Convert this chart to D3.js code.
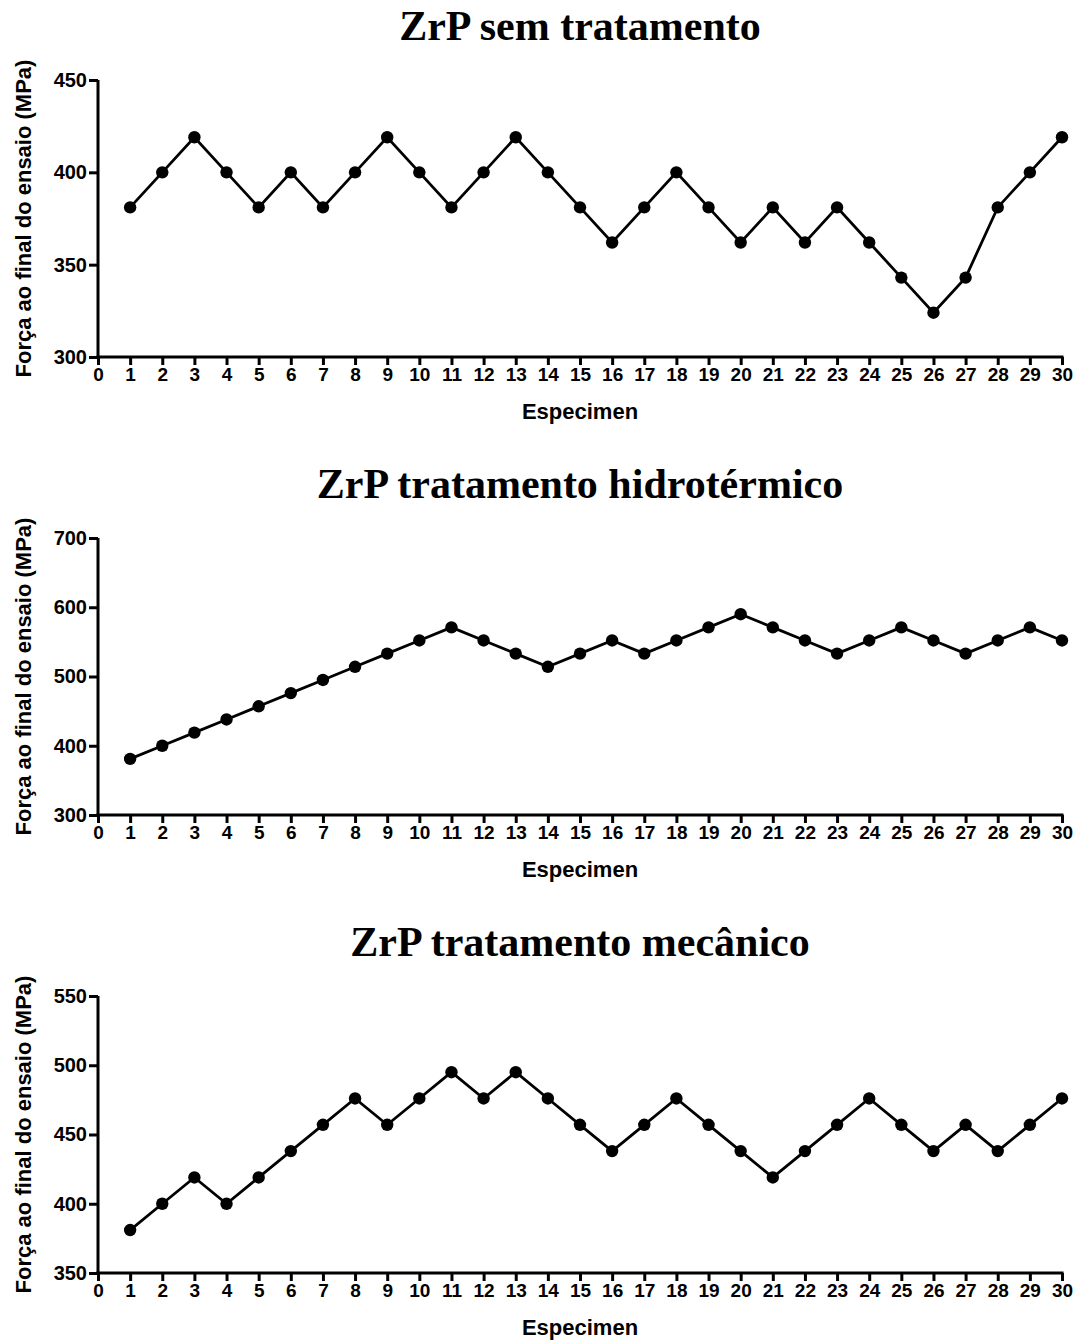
<!DOCTYPE html>
<html>
<head>
<meta charset="utf-8">
<script src="https://cdn.jsdelivr.net/npm/d3@7"></script>
<style>
  body { margin: 0; background: #fff; }
  svg { display: block; }
  .tick text { font-family: "Liberation Sans", Arial, sans-serif; font-weight: bold; fill: #000; }
</style>
</head>
<body>
<svg id="chart" width="1077" height="1341"></svg>
<script>
// specimens 1..30
const specimens = d3.range(1, 31);
const xTicks = d3.range(0, 31);

const titles = ['ZrP sem tratamento', 'ZrP tratamento hidrotérmico', 'ZrP tratamento mecânico'];

const semTratamento = [381, 400, 419, 400, 381, 400, 381, 400, 419, 400,
  381, 400, 419, 400, 381, 362, 381, 400, 381, 362,
  381, 362, 381, 362, 343, 324, 343, 381, 400, 419];

const hidrotermico = [381, 400, 419, 438, 457, 476, 495, 514, 533, 552,
  571, 552, 533, 514, 533, 552, 533, 552, 571, 590,
  571, 552, 533, 552, 571, 552, 533, 552, 571, 552];

const mecanico = [381, 400, 419, 400, 419, 438, 457, 476, 457, 476,
  495, 476, 495, 476, 457, 438, 457, 476, 457, 438,
  419, 438, 457, 476, 457, 438, 457, 438, 457, 476];

const yDomains = [[300, 450], [300, 700], [350, 550]];
const yTicks = [[300, 350, 400, 450], [300, 400, 500, 600, 700], [350, 400, 450, 500, 550]];

const yLabel = 'Força ao final do ensaio (MPa)';
const xLabel = 'Especimen';

const series = [semTratamento, hidrotermico, mecanico];

const PANEL_STEP = 458;
const LEFT = 98, RIGHT = 1062;
const TOP = 80, PLOT_H = 277;

let svg = d3.select('#chart');

let x = d3.scaleLinear().domain([0, 30]).range([LEFT, RIGHT]);

series.forEach((values, i) => {
  let top = TOP + i * PANEL_STEP;
  let bottom = top + PLOT_H;
  let g = svg.append('g');

  let y = d3.scaleLinear().domain(yDomains[i]).range([bottom, top]);

  // title
  g.append('text')
    .attr('x', (LEFT + RIGHT) / 2)
    .attr('y', top - 40)
    .attr('text-anchor', 'middle')
    .style('font-family', '"Liberation Serif", "Times New Roman", serif')
    .style('font-weight', 'bold')
    .style('font-size', '42px')
    .text(titles[i]);

  // axes
  let yAxis = g.append('g')
    .attr('transform', `translate(${LEFT},0)`)
    .call(d3.axisLeft(y).tickValues(yTicks[i]).tickSize(9).tickPadding(2).tickFormat(d3.format('d')));
  yAxis.selectAll('text').style('font-size', '20px');

  let xAxis = g.append('g')
    .attr('transform', `translate(0,${bottom})`)
    .call(d3.axisBottom(x).tickValues(xTicks).tickSize(8).tickPadding(3).tickFormat(d3.format('d')));
  xAxis.selectAll('text').style('font-size', '19px');

  g.selectAll('.domain').attr('stroke-width', 3).attr('stroke', '#000');
  g.selectAll('.tick line').attr('stroke-width', 3).attr('stroke', '#000');
  // axisLeft/Bottom draw outer ticks on the domain, get rid of them
  yAxis.select('.domain').attr('d', `M0,${bottom + 1.5}V${top}`);
  xAxis.select('.domain').attr('d', `M${LEFT - 1.5},0H${RIGHT + 1.5}`);

  // axis titles
  g.append('text')
    .attr('transform', `translate(31,${(top + bottom) / 2}) rotate(-90)`)
    .attr('text-anchor', 'middle')
    .style('font-family', '"Liberation Sans", Arial, sans-serif')
    .style('font-weight', 'bold')
    .style('font-size', '22px')
    .text(yLabel);

  g.append('text')
    .attr('x', (LEFT + RIGHT) / 2)
    .attr('y', bottom + 62)
    .attr('text-anchor', 'middle')
    .style('font-family', '"Liberation Sans", Arial, sans-serif')
    .style('font-weight', 'bold')
    .style('font-size', '22px')
    .text(xLabel);

  // line + markers
  let line = d3.line()
    .x((d, j) => x(specimens[j]))
    .y(d => y(d));

  g.append('path')
    .datum(values)
    .attr('d', line)
    .attr('fill', 'none')
    .attr('stroke', '#000')
    .attr('stroke-width', 2.8);

  g.selectAll('circle')
    .data(values)
    .enter().append('circle')
    .attr('cx', (d, j) => x(specimens[j]))
    .attr('cy', d => y(d))
    .attr('r', 6.2)
    .attr('fill', '#000');
});
</script>
</body>
</html>
